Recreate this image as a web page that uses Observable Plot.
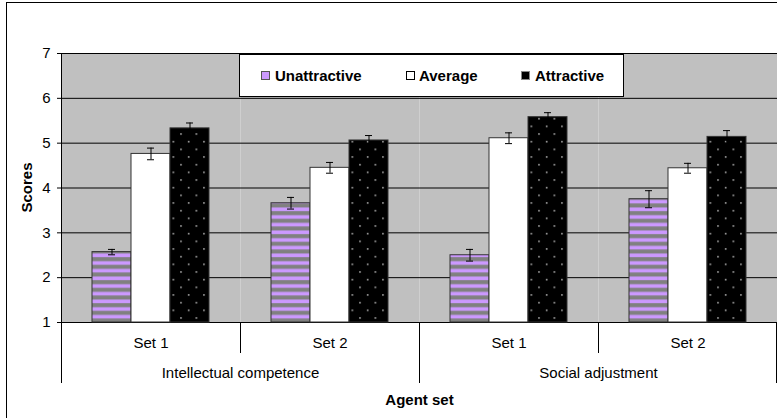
<!DOCTYPE html>
<html><head><meta charset="utf-8">
<script src="https://cdn.jsdelivr.net/npm/d3@7"></script>
<script src="https://cdn.jsdelivr.net/npm/@observablehq/plot@0.6"></script>
<style>
html,body{margin:0;padding:0;background:#fff;}
#wrap{position:relative;width:777px;height:418px;overflow:hidden;font-family:"Liberation Sans",Arial,sans-serif;}
#border{position:absolute;left:6px;top:2px;width:900px;height:700px;border-left:1px solid #000;border-top:1px solid #000;pointer-events:none;}
#legend{position:absolute;left:239px;top:54px;width:383px;height:41px;background:#fff;border:1px solid #000;box-sizing:content-box;}
.txt{position:absolute;top:12px;font-weight:bold;font-size:15px;line-height:17px;white-space:nowrap;color:#000;font-family:"Liberation Sans",Arial,sans-serif;}
.sw{position:absolute;top:16px;width:7px;height:7px;}
</style>
</head><body>
<div id="wrap"><div id="chart"></div><div id="legend"></div><div id="border"></div></div>
<script>
const groups = ["Intellectual competence", "Social adjustment"];
const sets = ["Set 1", "Set 2"];
const levels = ["Unattractive", "Average", "Attractive"];
const unattractive = [2.57, 3.66, 2.50, 3.75];
const average = [4.76, 4.45, 5.11, 4.44];
const attractive = [5.33, 5.06, 5.58, 5.14];
const unattractiveErr = [0.06, 0.13, 0.13, 0.19];
const averageErr = [0.13, 0.12, 0.12, 0.11];
const attractiveErr = [0.12, 0.11, 0.10, 0.14];
const yTicks = [1, 2, 3, 4, 5, 6, 7];
const xTitle = "Agent set";
const yTitle = "Scores";

const cells = groups.flatMap(g => sets.map(s => g + "|" + s));
const series = [unattractive, average, attractive];
const errs = [unattractiveErr, averageErr, attractiveErr];
const rows = [];
cells.forEach((c, i) => levels.forEach((l, j) => rows.push({cell: c, level: l, value: series[j][i], err: errs[j][i]})));
const groupLabels = groups.map((g, i) => ({cell: cells[i * 2 + 1], name: g}));
const fills = {Unattractive: "url(#pStripe)", Average: "#ffffff", Attractive: "url(#pDots)"};

const font = "'Liberation Sans', Arial, sans-serif";
const barMarks = levels.map(l => Plot.barY(rows.filter(d => d.level === l), {
  fx: "cell", x: "level", y1: 1, y2: "value", fill: fills[l], stroke: "#333", strokeWidth: 1
}));

const plot = Plot.plot({
  width: 777, height: 418,
  marginLeft: 60, marginRight: 0, marginTop: 53, marginBottom: 96,
  style: {fontFamily: font, fontSize: "15px", background: "transparent", color: "#000"},
  fx: {domain: cells, padding: 0, label: null, tickSize: 0, tickPadding: 15, tickFormat: d => d.split("|")[1]},
  x: {domain: levels, paddingInner: 0, paddingOuter: 0.75, axis: null},
  y: {domain: [1, 7], ticks: yTicks, tickSize: 4, tickPadding: 7, label: null, tickFormat: d => String(d)},
  marks: [
    Plot.frame({fill: "#c0c0c0", stroke: null}),
    Plot.ruleY(yTicks, {stroke: "#000", strokeWidth: 1}),
    ...barMarks,
    Plot.ruleX(rows, {fx: "cell", x: "level", y1: d => d.value - d.err, y2: d => d.value + d.err, stroke: "#000"}),
    Plot.tickY(rows, {fx: "cell", x: "level", y: d => d.value + d.err, insetLeft: 16, insetRight: 16, stroke: "#000"}),
    Plot.tickY(rows, {fx: "cell", x: "level", y: d => d.value - d.err, insetLeft: 16, insetRight: 16, stroke: "#000"}),
    Plot.text(groupLabels, {fx: "cell", text: "name", frameAnchor: "bottom-left", textAnchor: "middle", lineAnchor: "middle", dy: 51, fontSize: 15, fill: "#000"}),
    Plot.text([{cell: cells[2], name: xTitle}], {fx: "cell", text: "name", frameAnchor: "bottom-left", textAnchor: "middle", lineAnchor: "middle", dy: 78, fontSize: 15, fontWeight: "bold", fill: "#000"})
  ]
});
document.getElementById("chart").appendChild(plot);

const svg = d3.select(plot);
const defs = svg.insert("defs", ":first-child");
const ps = defs.append("pattern").attr("id", "pStripe").attr("patternUnits", "userSpaceOnUse").attr("width", 8).attr("height", 7.67);
ps.append("rect").attr("width", 8).attr("height", 7.67).attr("fill", "#808080");
ps.append("rect").attr("y", 0.4).attr("width", 8).attr("height", 3.6).attr("fill", "#cc99ff");
const pd = defs.append("pattern").attr("id", "pDots").attr("patternUnits", "userSpaceOnUse").attr("width", 15.33).attr("height", 15.33);
pd.append("rect").attr("width", 15.33).attr("height", 15.33).attr("fill", "#000");
pd.append("rect").attr("x", 3).attr("y", 3).attr("width", 1.4).attr("height", 1.4).attr("fill", "#ddd");
pd.append("rect").attr("x", 10.7).attr("y", 10.7).attr("width", 1.4).attr("height", 1.4).attr("fill", "#ddd");

// category dividers below the plot, from the fx and y scales
const fx = plot.scale("fx");
const ys = plot.scale("y");
const y0 = ys.apply(1), yTop = ys.apply(7);
const edges = cells.map(c => fx.apply(c)).concat([fx.apply(cells[cells.length - 1]) + fx.bandwidth]);
const g = svg.append("g").attr("stroke", "#000").attr("stroke-width", 1);
edges.forEach((x, i) => {
  const xx = Math.min(Math.round(x), 776) + 0.5;
  const long = i % 2 === 0;
  g.append("line").attr("x1", xx).attr("x2", xx)
    .attr("y1", i === 0 ? yTop : y0)
    .attr("y2", y0 + (long ? 61 : 31));
});
svg.append("text").attr("transform", `translate(26,${(y0 + yTop) / 2}) rotate(-90)`)
  .attr("text-anchor", "middle").attr("dominant-baseline", "central")
  .attr("font-family", font).attr("font-size", 15).attr("font-weight", "bold").attr("fill", "#000")
  .text(yTitle);

// legend
const legend = document.getElementById("legend");
const legendPos = [{sw: 21, tx: 35}, {sw: 166, tx: 179}, {sw: 281, tx: 295}];
const swStyle = [
  "background:#cc99ff;border:1px solid #555;",
  "background:#fff;border:1px solid #000;",
  "background:#000;border:1px solid #888;"
];
levels.forEach((l, i) => {
  const s = document.createElement("div");
  s.className = "sw"; s.style.cssText = swStyle[i] + `left:${legendPos[i].sw}px;`;
  legend.appendChild(s);
  const t = document.createElement("div");
  t.className = "txt"; t.style.left = legendPos[i].tx + "px"; t.textContent = l;
  legend.appendChild(t);
});
</script>
</body></html>
